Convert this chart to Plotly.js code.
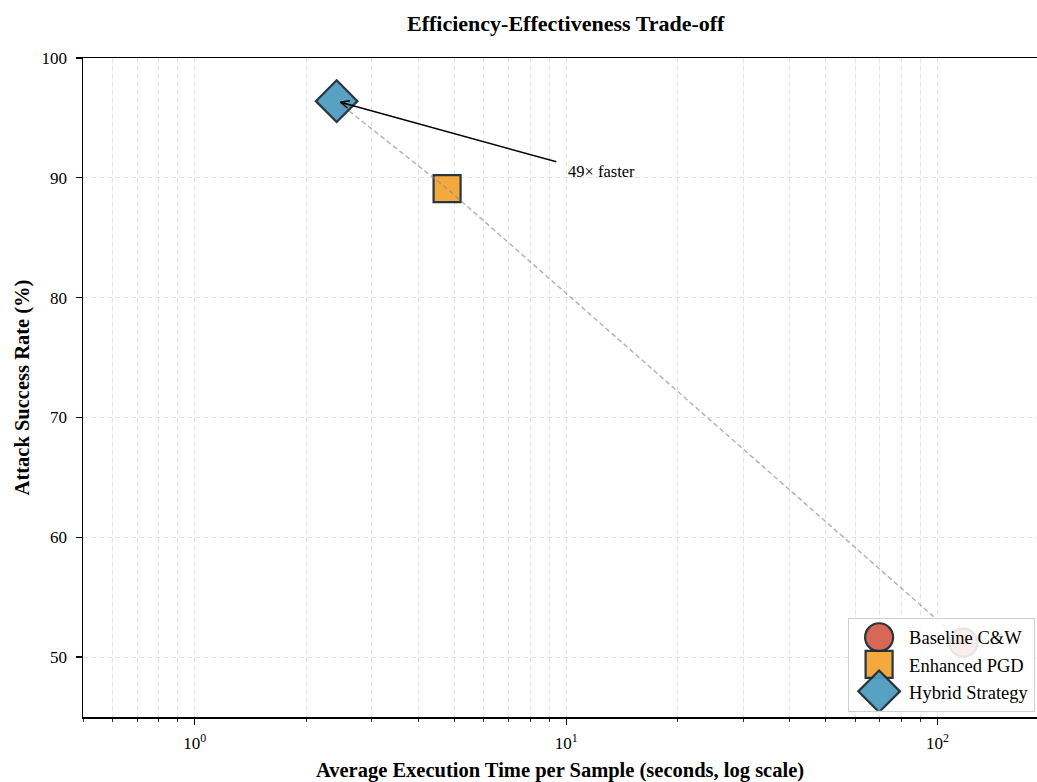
<!DOCTYPE html>
<html>
<head>
<meta charset="utf-8">
<script src="https://cdn.plot.ly/plotly-3.0.1.min.js"></script>
<style>
  html, body { margin: 0; padding: 0; background: #fff; }
  #chart { width: 1037px; height: 782px; }
</style>
</head>
<body>
<div id="chart"></div>
<script>
// Attack methods: mean execution time per sample vs. attack success rate
const methods = ['Baseline C&W', 'Enhanced PGD', 'Hybrid Strategy'];
const timeSeconds = [117.4, 4.78, 2.41];
const successRate = [51.2, 89.1, 96.4];

// Axis ticks
const xTickVals = [1, 10, 100];
const xTickText = ['10<sup>0</sup>', '10<sup>1</sup>', '10<sup>2</sup>'];
const yTickVals = [50, 60, 70, 80, 90, 100];

// Annotation: speed-up of the hybrid strategy, label anchored at (10, 90)
const speedupLabel = '49× faster';
const speedupLabelPos = [10, 90];
const speedupTail = [9.5, 91.3];

// Styles
const markerColors = ['#d6604d', '#f4a534', '#4f9cbf'];
const markerSymbols = ['circle', 'square', 'diamond'];
const markerSizes = [28, 27, 32];
const edgeColor = '#1f2b36';
const FONT = 'Liberation Serif, Times New Roman, serif';

// Minor ticks on the log axis (2..9 within each decade)
const minorTicks = [];
for (let e = -1; e <= 2; e++) {
  for (let d = 2; d <= 9; d++) {
    const v = d * Math.pow(10, e);
    if (v >= 0.5 && v <= 190) minorTicks.push(v);
  }
}

const xRange = [Math.log10(0.5), 2.268];
const yRange = [45, 100];
const margin = { l: 83, r: 0, t: 58, b: 65 };
const W = 1037, H = 782;

const traces = methods.map((m, i) => ({
  type: 'scatter',
  mode: 'markers',
  name: m,
  x: [timeSeconds[i]],
  y: [successRate[i]],
  marker: {
    color: markerColors[i],
    symbol: markerSymbols[i],
    size: markerSizes[i],
    opacity: 0.95,
    line: { color: edgeColor, width: 2.2 }
  },
  cliponaxis: false,
  hoverinfo: 'x+y+name'
}));

// Dashed trend through the methods ordered by time
const order = timeSeconds.map((t, i) => i).sort((a, b) => timeSeconds[a] - timeSeconds[b]);
traces.push({
  type: 'scatter',
  mode: 'lines',
  x: order.map(i => timeSeconds[i]),
  y: order.map(i => successRate[i]),
  line: { color: 'rgba(140,140,140,0.65)', width: 1.5, dash: '5px,3px' },
  showlegend: false,
  hoverinfo: 'skip'
});

// Arrow from label to the hybrid strategy point, with an open "->" head
const plotW = W - margin.l - margin.r;
const plotH = H - margin.t - margin.b;
const pxPerDecade = plotW / (xRange[1] - xRange[0]);
const pxPerUnit = plotH / (yRange[1] - yRange[0]);
const hybridIdx = methods.indexOf('Hybrid Strategy');
const headLog = [Math.log10(timeSeconds[hybridIdx]), successRate[hybridIdx]];
const tailLog = [Math.log10(speedupTail[0]), speedupTail[1]];
const dxPx = (tailLog[0] - headLog[0]) * pxPerDecade;
const dyPx = -(tailLog[1] - headLog[1]) * pxPerUnit;
const len = Math.hypot(dxPx, dyPx);
const ux = dxPx / len, uy = dyPx / len;
const shrink = 4;
const tip = [headLog[0] + ux * shrink / pxPerDecade, headLog[1] - uy * shrink / pxPerUnit];
const wingLen = 11, wingAng = 24 * Math.PI / 180;
function rot(x, y, a) { return [x * Math.cos(a) - y * Math.sin(a), x * Math.sin(a) + y * Math.cos(a)]; }
const w1 = rot(ux, uy, wingAng), w2 = rot(ux, uy, -wingAng);

const annotations = [
  {
    xref: 'x', yref: 'y', axref: 'x', ayref: 'y',
    x: tip[0], y: tip[1], ax: tailLog[0], ay: tailLog[1],
    text: '', showarrow: true, arrowhead: 0, arrowwidth: 1.5, arrowcolor: '#000', standoff: 0, startstandoff: 0
  },
  {
    xref: 'x', yref: 'y', x: tip[0], y: tip[1],
    ax: w1[0] * wingLen, ay: w1[1] * wingLen,
    text: '', showarrow: true, arrowhead: 0, arrowwidth: 1.5, arrowcolor: '#000', standoff: 0
  },
  {
    xref: 'x', yref: 'y', x: tip[0], y: tip[1],
    ax: w2[0] * wingLen, ay: w2[1] * wingLen,
    text: '', showarrow: true, arrowhead: 0, arrowwidth: 1.5, arrowcolor: '#000', standoff: 0
  },
  {
    xref: 'x', yref: 'y',
    x: Math.log10(speedupLabelPos[0]), y: speedupLabelPos[1],
    xanchor: 'left', yanchor: 'bottom', yshift: -5,
    text: speedupLabel, showarrow: false,
    font: { family: FONT, size: 16.5, color: '#000' }
  }
];

const gridColor = '#e4e4e4';

const layout = {
  width: W, height: H,
  margin: margin,
  paper_bgcolor: '#fff',
  plot_bgcolor: '#fff',
  font: { family: FONT, size: 17, color: '#000' },
  title: {
    text: 'Efficiency-Effectiveness Trade-off',
    font: { family: FONT, size: 22, weight: 'bold', color: '#000' },
    x: 0.506, xanchor: 'center', xref: 'paper',
    y: 0.970, yanchor: 'middle'
  },
  xaxis: {
    type: 'log',
    range: xRange,
    tickmode: 'array',
    tickvals: xTickVals,
    ticktext: xTickText,
    ticks: 'outside', ticklen: 6, tickwidth: 1.2, tickcolor: '#000',
    tickfont: { family: FONT, size: 17 },
    ticklabelstandoff: 4,
    showline: true, linecolor: '#000', linewidth: 1.5, mirror: true,
    showgrid: true, gridcolor: gridColor, gridwidth: 1, griddash: '5px,3px',
    zeroline: false,
    minor: {
      tickmode: 'array', tickvals: minorTicks,
      ticks: 'outside', ticklen: 3.5, tickwidth: 0.8, tickcolor: '#000',
      showgrid: true, gridcolor: gridColor, gridwidth: 1, griddash: '5px,3px'
    },
    title: {
      text: 'Average Execution Time per Sample (seconds, log scale)',
      font: { family: FONT, size: 20.5, weight: 'bold' },
      standoff: 10
    }
  },
  yaxis: {
    range: yRange,
    tickmode: 'array',
    tickvals: yTickVals,
    ticks: 'outside', ticklen: 6, tickwidth: 1.2, tickcolor: '#000',
    tickfont: { family: FONT, size: 17 },
    ticklabelstandoff: 5,
    showline: true, linecolor: '#000', linewidth: 1.5, mirror: false,
    showgrid: true, gridcolor: gridColor, gridwidth: 1, griddash: '5px,3px',
    zeroline: false,
    title: {
      text: 'Attack Success Rate (%)',
      font: { family: FONT, size: 20.5, weight: 'bold' },
      standoff: 6
    }
  },
  legend: {
    x: 0.998, xanchor: 'right',
    y: 0.008, yanchor: 'bottom',
    bgcolor: 'rgba(255,255,255,0.88)',
    bordercolor: '#d0d0d0', borderwidth: 1,
    font: { family: FONT, size: 18.5, color: '#000' },
    itemsizing: 'constant',
    itemwidth: 50,
    tracegroupgap: 0
  },
  annotations: annotations,
  showlegend: true
};

Plotly.newPlot('chart', traces, layout, { displayModeBar: false, staticPlot: true }).then(gd => {
  // Enlarge legend symbols to the plotted marker sizes
  const items = gd.querySelectorAll('.legend .traces');
  items.forEach((item, i) => {
    if (i >= markerSizes.length) return;
    const pts = item.querySelectorAll('.legendpoints path.scatterpts');
    const k = markerSizes[i] / 12;
    pts.forEach(p => {
      const t = p.getAttribute('transform') || '';
      p.setAttribute('transform', t + ' scale(' + k + ')');
      p.style.strokeWidth = (2.2 / k) + 'px';
    });
  });
});
</script>
</body>
</html>
